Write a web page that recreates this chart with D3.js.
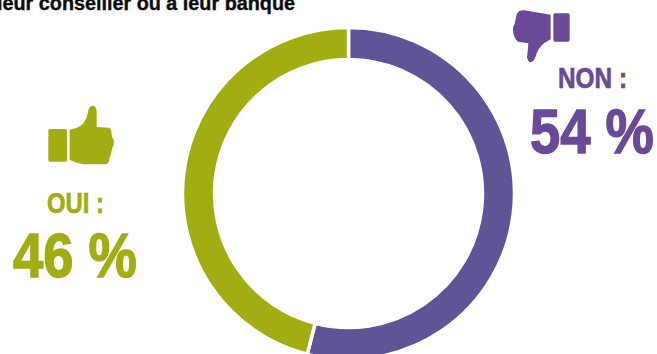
<!DOCTYPE html>
<html><head><meta charset="utf-8">
<script src="https://cdn.jsdelivr.net/npm/d3@7"></script>
<style>
html,body{margin:0;padding:0;background:#fff;overflow:hidden}
svg{display:block}
text{font-family:"Liberation Sans",sans-serif;font-weight:700}
</style></head><body>
<svg id="chart" width="657" height="354"></svg>
<script>
const answers = ["NON", "OUI"];
const shares = [54, 46];
const ringColors = ["#5f5496", "#a2ad12"];
const textColors = ["#6a4a96", "#a2ad12"];
const heading = "leur conseiller ou à leur banque";

const svg = d3.select("#chart");
const cx = 348.5, cy = 193.5, outer = 166, inner = 134;

const pie = d3.pie().sort(null).value(d => d)(shares);
const arc = d3.arc().innerRadius(inner).outerRadius(outer);
svg.append("g").attr("transform", `translate(${cx},${cy})`)
  .selectAll("path").data(pie).join("path")
  .attr("d", arc)
  .attr("fill", (d, i) => ringColors[i])
  .attr("stroke", "#fff").attr("stroke-width", 3.5);

// Condensed bold setting: glyphs are squeezed to a fixed run length, then thickened
function fitted(x, y, size, length, color, weight, str) {
  return svg.append("text").attr("x", x).attr("y", y)
    .attr("font-size", size).attr("fill", color)
    .attr("stroke", color).attr("stroke-width", weight)
    .attr("textLength", length).attr("lengthAdjust", "spacingAndGlyphs")
    .text(str);
}

fitted(-3, 9.5, 21, 298, "#0c0c0c", 0.4, heading);

const blocks = [
  {nameX: 558, nameY: 88, nameW: 69, valueX: 530, valueY: 153, valueW: 124},
  {nameX: 47, nameY: 213, nameW: 57, valueX: 13, valueY: 277, valueW: 124}
];
blocks.forEach((b, i) => {
  fitted(b.nameX, b.nameY, 30, b.nameW, textColors[i], 0.7, answers[i] + " :");
  fitted(b.valueX, b.valueY, 63, b.valueW, textColors[i], 1.4, shares[i] + " %");
});

// Thumb-down icon
const down = svg.append("g").attr("fill", textColors[0])
  .attr("transform", "translate(500,0) scale(0.3333)");
down.append("rect").attr("x", 160).attr("y", 40).attr("width", 49).attr("height", 85).attr("rx", 5);
down.append("path").attr("d",
  "M152,44 L72,31 Q52,31 49,47 Q46,62 44,72 Q36,84 40,98 Q44,118 54,125 L85,130 Q84,150 81,172 Q84,187 93,187 Q104,184 110,160 Q118,140 134,128 L152,118 Z");

// Thumb-up icon
const up = svg.append("g").attr("fill", textColors[1])
  .attr("transform", "translate(0,95) scale(0.3333)");
up.append("rect").attr("x", 145).attr("y", 102).attr("width", 56).attr("height", 98).attr("rx", 5);
up.append("path").attr("d",
  "M209,104 Q246,100 258,72 Q264,55 266,42 Q272,31 280,32 Q290,36 290,50 L290,96 L328,98 Q336,104 335,124 Q344,134 341,150 Q335,160 334,172 Q332,182 328,190 Q328,206 318,208 L250,208 Q230,204 209,195 Z");
</script>
</body></html>
